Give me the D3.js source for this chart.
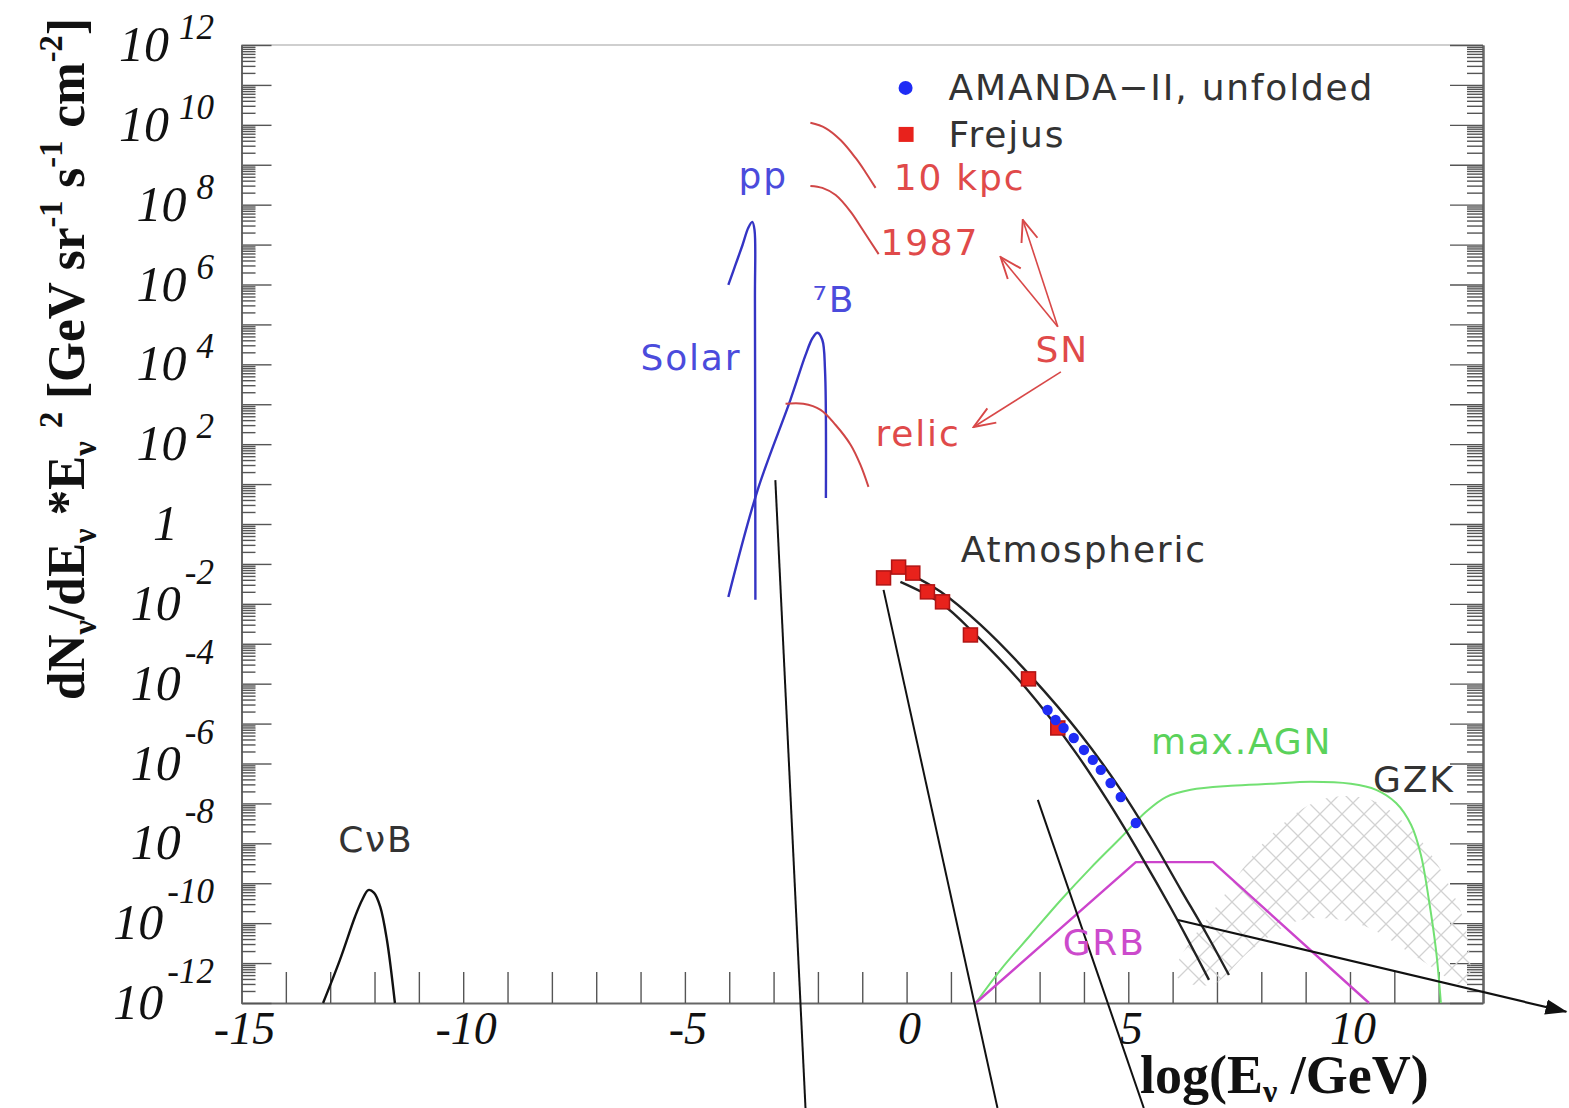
<!DOCTYPE html>
<html>
<head>
<meta charset="utf-8">
<script src="https://cdn.jsdelivr.net/npm/d3@7"></script>
<style>
  body { margin: 0; background: #fff; }
  .lbl { font-family: 'DejaVu Sans', sans-serif; font-size: 36px; letter-spacing: 1.8px; }
  .tick-lbl { font-family: 'Liberation Serif', 'Times New Roman', serif; font-style: italic; }
</style>
</head>
<body>
<svg id="chart" width="1569" height="1108"></svg>
<script>
// x = log10(E / GeV), y = log10(flux)
const xTickLabels = [-15, -10, -5, 0, 5, 10];
const yTickExps = [12, 10, 8, 6, 4, 2, 0, -2, -4, -6, -8, -10, -12];

const cnbCurve = [[-13.16, -12], [-12.78, -10.92], [-12.44, -9.84], [-12.28, -9.42], [-12.14, -9.17],
  [-12.01, -9.24], [-11.87, -9.59], [-11.72, -10.42], [-11.54, -12]];
const ppCurve = [[-4.02, 5.99], [-3.86, 6.49], [-3.70, 6.99], [-3.57, 7.42], [-3.48, 7.57],
  [-3.43, 7.37], [-3.42, 5.6], [-3.41, -1.9]];
const b8Curve = [[-4.02, -1.83], [-3.36, 0.85], [-2.62, 3.11], [-2.28, 4.23], [-2.12, 4.66],
  [-2.01, 4.79], [-1.90, 4.61], [-1.84, 3.86], [-1.82, 0.65]];
const relicCurve = [[-2.73, 3.01], [-2.33, 3.01], [-1.94, 2.86], [-1.60, 2.48], [-1.26, 1.98],
  [-1.04, 1.48], [-0.86, 0.93]];
const sn10kpcCurve = [[-2.17, 10.05], [-1.83, 9.92], [-1.49, 9.62], [-1.15, 9.17], [-0.93, 8.82], [-0.70, 8.42]];
const sn1987Curve = [[-2.17, 8.47], [-1.90, 8.42], [-1.60, 8.24], [-1.26, 7.82], [-0.99, 7.37], [-0.63, 6.76]];
const atmUpper = [[-0.02, -1.20], [0.77, -1.70], [1.67, -2.53], [2.80, -3.81], [3.93, -5.28],
  [4.83, -6.66], [5.51, -7.86], [6.19, -9.17], [6.75, -10.24], [7.27, -11.30]];
const atmLower = [[-0.14, -1.45], [0.77, -1.98], [1.56, -2.78], [2.69, -4.11], [3.81, -5.72],
  [4.60, -7.05], [5.28, -8.30], [5.96, -9.62], [6.41, -10.55], [6.82, -11.42]];
const frejusPoints = [[-0.52, -1.35], [-0.18, -1.08], [0.14, -1.23], [0.47, -1.70], [0.81, -1.95],
  [1.44, -2.78], [2.75, -3.88], [3.41, -5.11]];
const amandaPoints = [[3.18, -4.66], [3.36, -4.91], [3.54, -5.11], [3.77, -5.36], [4.00, -5.66],
  [4.20, -5.91], [4.38, -6.16], [4.60, -6.49], [4.83, -6.84], [5.17, -7.49]];
const agnCurve = [[1.56, -12], [2.12, -11.17], [2.80, -10.29], [3.48, -9.42], [4.15, -8.62],
  [4.83, -7.86], [5.40, -7.21], [5.85, -6.84], [6.41, -6.66], [7.31, -6.56], [8.22, -6.51],
  [9.12, -6.46], [10.02, -6.51], [10.59, -6.66], [11.04, -6.99], [11.38, -7.54], [11.60, -8.29],
  [11.78, -9.42], [11.94, -10.67], [12.05, -12]];
const grbCurve = [[1.56, -12], [5.17, -8.47], [6.91, -8.47], [10.43, -12]];
const gzkRegion = [[6.07, -11.30], [7.09, -9.42], [8.22, -7.79], [9.35, -6.91], [10.47, -6.91],
  [11.38, -7.66], [12.05, -8.67], [12.62, -10.17], [12.62, -11.55], [11.60, -10.92],
  [10.25, -10.04], [8.89, -9.92], [7.77, -10.67], [6.86, -11.55]];
const snArrows = [[[3.41, 4.94], [2.12, 6.69]], [[3.41, 4.94], [2.62, 7.62]], [[3.48, 3.81], [1.51, 2.43]]];
const pointerLines = [[[-2.96, 1.10], [-2.28, -14.63]], [[-0.52, -1.65], [2.05, -14.63]],
  [[2.96, -6.91], [5.35, -14.63]]];
const pointerArrow = [[6.12, -9.92], [14.88, -12.22]];

const labels = [
  { text: 'pp', at: [-3.79, 8.42], color: '#4b4bdc' },
  { text: 'Solar', at: [-6.0, 3.86], color: '#4b4bdc' },
  { text: '\u2077B', at: [-2.12, 5.31], color: '#4b4bdc' },
  { text: '10 kpc', at: [-0.29, 8.37], color: '#e04a4a' },
  { text: '1987', at: [-0.59, 6.74], color: '#e04a4a' },
  { text: 'SN', at: [2.91, 4.06], color: '#e04a4a' },
  { text: 'relic', at: [-0.70, 1.95], color: '#e04a4a' },
  { text: 'Atmospheric', at: [1.22, -0.95], color: '#333' },
  { text: 'max.AGN', at: [5.51, -5.76], color: '#5ad25a' },
  { text: 'GZK', at: [10.52, -6.71], color: '#333' },
  { text: 'GRB', at: [3.52, -10.80], color: '#cc4acc' },
  { text: 'C\u03bdB', at: [-12.82, -8.22], color: '#333' }
];

const width = 1569, height = 1108;
const svg = d3.select('#chart');
svg.append('rect').attr('width', width).attr('height', height).attr('fill', '#fff');

const x = d3.scaleLinear().domain([-15, 13]).range([241.5, 1483]);
const y = d3.scaleLog().domain([1e-12, 1e12]).range([1003, 45]);
const px = d => x(d[0]);
const py = d => y(Math.pow(10, d[1]));

const defs = svg.append('defs');
const hatch = defs.append('pattern').attr('id', 'hatch').attr('patternUnits', 'userSpaceOnUse')
  .attr('width', 22).attr('height', 22);
hatch.append('path').attr('d', 'M0,0 L22,22 M22,0 L0,22').attr('stroke', '#d2d2d2').attr('stroke-width', 1.3);
defs.append('marker').attr('id', 'openArrow').attr('viewBox', '0 0 20 20').attr('refX', 19).attr('refY', 10)
  .attr('markerWidth', 24).attr('markerHeight', 24).attr('markerUnits', 'userSpaceOnUse').attr('orient', 'auto')
  .append('path').attr('d', 'M1,3 L19,10 L1,17').attr('fill', 'none').attr('stroke', '#d84848').attr('stroke-width', 1.6);
defs.append('marker').attr('id', 'solidArrow').attr('viewBox', '0 0 20 20').attr('refX', 19).attr('refY', 10)
  .attr('markerWidth', 22).attr('markerHeight', 22).attr('markerUnits', 'userSpaceOnUse').attr('orient', 'auto')
  .append('path').attr('d', 'M0,3 L20,10 L0,17 Z').attr('fill', '#111');

// frame
svg.append('line').attr('x1', x(-15)).attr('x2', x(13)).attr('y1', y(1e12)).attr('y2', y(1e12))
  .attr('stroke', '#cfcfcf').attr('stroke-width', 2);

const styleAxis = g => {
  g.selectAll('path').attr('stroke', '#666').attr('stroke-width', 2);
  g.selectAll('line').attr('stroke', '#555').attr('stroke-width', 1.4);
};

svg.append('g').attr('transform', `translate(0,${y(1e-12)})`)
  .call(d3.axisBottom(x).tickValues(d3.range(-15, 14)).tickSize(-31).tickSizeOuter(0).tickFormat(''))
  .call(styleAxis);

const decades = d3.range(-12, 13).map(e => Math.pow(10, e));
const minors = [];
d3.range(-12, 12).forEach(e => { for (let k = 2; k <= 9; k++) minors.push(k * Math.pow(10, e)); });

[[d3.axisLeft, x(-15), -30, -14], [d3.axisRight, x(13), -33, -16]].forEach(([ax, pos, major, minor]) => {
  svg.append('g').attr('transform', `translate(${pos},0)`)
    .call(ax(y).tickValues(decades).tickSize(major).tickSizeOuter(0).tickFormat(''))
    .call(styleAxis);
  svg.append('g').attr('transform', `translate(${pos},0)`)
    .call(ax(y).tickValues(minors).tickSize(minor).tickSizeOuter(0).tickFormat(''))
    .call(styleAxis);
});

// tick labels
svg.append('g').selectAll('text').data(xTickLabels).enter().append('text')
  .attr('class', 'tick-lbl').attr('x', d => x(d) + 3).attr('y', 1044)
  .attr('text-anchor', 'middle').attr('font-size', 46).attr('fill', '#111')
  .text(d => d);

const yl = svg.append('g').selectAll('text').data(yTickExps).enter().append('text')
  .attr('class', 'tick-lbl').attr('fill', '#111').attr('text-anchor', 'end')
  .attr('x', d => d === 0 ? 178 : 214).attr('y', d => y(Math.pow(10, d)) + 16).attr('font-size', 50);
yl.append('tspan').text(d => d === 0 ? '1' : '10');
yl.filter(d => d !== 0).append('tspan').attr('font-size', 35)
  .attr('dx', d => d > 0 ? 10 : 4).attr('dy', d => d > 0 ? -22 : -36).text(d => d);

// axis titles
const yParts = [['dN', 0], ['\u03bd', 1], ['/dE', 0], ['\u03bd', 1], [' *E', 0], ['\u03bd', 1], ['\u2009\u20092', 2],
  [' [GeV sr', 0], ['-1', 2], [' s', 0], ['-1', 2], [' cm', 0], ['-2', 2], [']', 0]];
const yShift = [0, 12, -22];
const yt = svg.append('text').attr('transform', 'translate(84,700) rotate(-90)')
  .attr('font-family', "'Liberation Serif', 'Times New Roman', serif").attr('font-weight', 'bold')
  .attr('font-size', 52).attr('fill', '#111')
  .attr('textLength', 682).attr('lengthAdjust', 'spacingAndGlyphs');
let cur = 0;
yParts.forEach(([t, k]) => {
  const ts = yt.append('tspan').text(t).attr('dy', yShift[k] - cur);
  if (k) ts.attr('font-size', 33);
  cur = yShift[k];
});

const xt = svg.append('text').attr('x', 1140).attr('y', 1093)
  .attr('font-family', "'Liberation Serif', 'Times New Roman', serif").attr('font-weight', 'bold')
  .attr('font-size', 54).attr('fill', '#111');
xt.append('tspan').text('log(E');
xt.append('tspan').attr('font-size', 32).attr('dy', 9).text('\u03bd');
xt.append('tspan').attr('dy', -9).text(' /GeV)');

// GZK hatch
svg.append('path').datum(gzkRegion)
  .attr('d', d3.line().x(px).y(py).curve(d3.curveCatmullRomClosed.alpha(0.5)))
  .attr('fill', 'url(#hatch)').attr('stroke', 'none');

const curve = d3.line().x(px).y(py).curve(d3.curveCatmullRom.alpha(0.5));
const straight = d3.line().x(px).y(py);

const drawCurve = (data, color, w, gen) => svg.append('path').datum(data)
  .attr('d', gen || curve).attr('fill', 'none').attr('stroke', color).attr('stroke-width', w)
  .attr('stroke-linejoin', 'round');

drawCurve(agnCurve, '#72e072', 2);
drawCurve(grbCurve, '#cc44cc', 2.4, straight);
drawCurve(cnbCurve, '#111', 2.4);
drawCurve(ppCurve, '#3434c4', 2.4);
drawCurve(b8Curve, '#3434c4', 2.4);
drawCurve(relicCurve, '#d04646', 2);
drawCurve(sn10kpcCurve, '#d04646', 2);
drawCurve(sn1987Curve, '#d04646', 2);
drawCurve(atmUpper, '#222', 2.4);
drawCurve(atmLower, '#222', 2.4);

// SN arrows
snArrows.forEach(a => svg.append('path').datum(a).attr('d', straight)
  .attr('stroke', '#d84848').attr('stroke-width', 1.6).attr('fill', 'none')
  .attr('marker-end', 'url(#openArrow)'));

// data points
svg.append('g').selectAll('rect').data(frejusPoints).enter().append('rect')
  .attr('x', d => px(d) - 7).attr('y', d => py(d) - 7).attr('width', 14).attr('height', 14)
  .attr('fill', '#e8221c').attr('stroke', '#b01414').attr('stroke-width', 1.5);
svg.append('g').selectAll('circle').data(amandaPoints).enter().append('circle')
  .attr('cx', px).attr('cy', py).attr('r', 5.2).attr('fill', '#1f2cf5');

// pointer lines
pointerLines.forEach(l => svg.append('path').datum(l).attr('d', straight)
  .attr('stroke', '#111').attr('stroke-width', 2).attr('fill', 'none'));
svg.append('path').datum(pointerArrow).attr('d', straight)
  .attr('stroke', '#111').attr('stroke-width', 2.2).attr('fill', 'none')
  .attr('marker-end', 'url(#solidArrow)');

// text labels
svg.append('g').selectAll('text').data(labels).enter().append('text')
  .attr('class', 'lbl').attr('x', d => px(d.at)).attr('y', d => py(d.at))
  .attr('fill', d => d.color).text(d => d.text);

// legend
const legend = svg.append('g').attr('transform', `translate(${x(0)},${y(1e11)})`);
legend.append('circle').attr('cx', -1).attr('cy', 3).attr('r', 7).attr('fill', '#1f2cf5');
legend.append('text').attr('class', 'lbl').attr('x', 42).attr('y', 15).attr('fill', '#333')
  .text('AMANDA\u2212II, unfolded');
legend.append('rect').attr('x', -8).attr('y', 42).attr('width', 15).attr('height', 15).attr('fill', '#e8221c');
legend.append('text').attr('class', 'lbl').attr('x', 42).attr('y', 62).attr('fill', '#333').text('Frejus');
</script>
</body>
</html>
